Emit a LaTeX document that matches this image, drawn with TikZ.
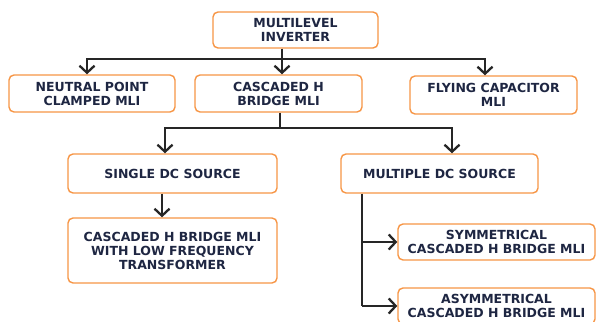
\documentclass[tikz,border=0pt]{standalone}
\usepackage{fontspec}
\setmainfont{DejaVu Sans}
\usetikzlibrary{arrows.meta}
\definecolor{box_orange}{RGB}{247,150,70}
\definecolor{text_navy}{RGB}{30,38,66}
\begin{document}
\begin{tikzpicture}[
        x=1pt, y=-1pt,
        box_mli/.style={draw=box_orange, line width=1.4pt, rounded corners=5pt, fill=white,
            align=center, text=text_navy, inner sep=2pt,
            font=\bfseries\fontsize{12.5}{14}\selectfont},
        link/.style={draw=black!85, line width=2.3pt},
        arrow_link/.style={link, -{Straight Barb[length=7pt,width=15pt]}}
        ]
    \clip (0,0) rectangle (596,321);
    \fill[white] (0,0) rectangle (596,321);
    % livello 0 e 1
    \node[box_mli, minimum width=165pt, minimum height=36pt] (inv) at (295.5,30) {MULTILEVEL\\INVERTER};
    \node[box_mli, minimum width=166pt, minimum height=37pt] (npc) at (92,93.5) {NEUTRAL POINT\\CLAMPED MLI};
    \node[box_mli, minimum width=167pt, minimum height=37pt] (chb) at (278.5,93.5) {CASCADED H\\BRIDGE MLI};
    \node[box_mli, minimum width=167pt, minimum height=38pt] (fc) at (493.5,95) {FLYING CAPACITOR\\MLI};
    % livello 2
    \node[box_mli, minimum width=209pt, minimum height=39pt] (sdc) at (172.5,173.5) {SINGLE DC SOURCE};
    \node[box_mli, minimum width=197pt, minimum height=39pt] (mdc) at (439.5,173.5) {MULTIPLE DC SOURCE};
    % livello 3
    \node[box_mli, minimum width=209pt, minimum height=65pt] (lft) at (172.5,250.5)
        {CASCADED H BRIDGE MLI\\WITH LOW FREQUENCY\\TRANSFORMER};
    \node[box_mli, minimum width=197pt, minimum height=36pt] (sym) at (496.5,242)
        {SYMMETRICAL\\CASCADED H BRIDGE MLI};
    \node[box_mli, minimum width=197pt, minimum height=36pt] (asym) at (496.5,306)
        {ASYMMETRICAL\\CASCADED H BRIDGE MLI};

    \coordinate (bus_top) at (282,59);
    \coordinate (bus_chb) at (280,128);
    \coordinate (trunk_mdc) at (362,193);

    \draw[link] (bus_top |- inv.south) -- (bus_top);
    \draw[arrow_link] (bus_top) -| ([xshift=-5pt]npc.north);
    \draw[arrow_link] (bus_top) -| ([xshift=-8.5pt]fc.north);
    \draw[arrow_link] (bus_top) -- (bus_top |- chb.north);

    \draw[link] (bus_chb |- chb.south) -- (bus_chb);
    \draw[arrow_link] (bus_chb) -| ([xshift=-7.5pt]sdc.north);
    \draw[arrow_link] (bus_chb) -| ([xshift=12.5pt]mdc.north);

    \draw[arrow_link] ([xshift=-10.5pt]sdc.south) -- ([xshift=-10.5pt]lft.north);

    \draw[link] (trunk_mdc |- mdc.south) -- (trunk_mdc |- asym.west);
    \draw[arrow_link] (trunk_mdc |- sym.west) -- (sym.west);
    \draw[arrow_link] (trunk_mdc |- asym.west) -- (asym.west);
\end{tikzpicture}
\end{document}
